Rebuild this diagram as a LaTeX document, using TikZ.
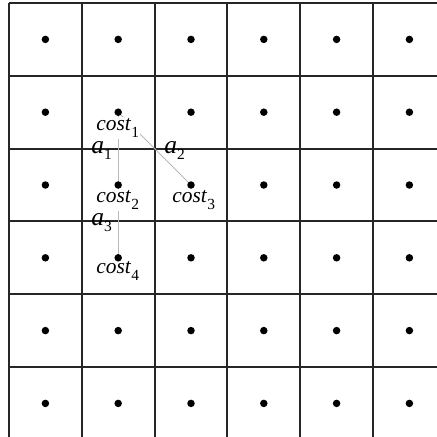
\documentclass[tikz,border=0pt]{standalone}
\usepackage{fontspec}
\setmainfont{Liberation Serif}

\newcommand{\sublbl}[3]{\textit{#1}\raisebox{-#3}{\fontsize{8.8}{9}\selectfont #2}}

\begin{document}
\begin{tikzpicture}[
    grid/.style    = {draw=black!85, line width=1.1pt},
    cell/.style    = {circle, fill=black, inner sep=0pt, minimum size=0.15cm},
    path/.style    = {draw=gray!55, line width=0.5pt},
    costlbl/.style = {anchor=base west, inner sep=0.6pt, fill=white,
                      font=\fontsize{12.2}{14}\selectfont},
    actlbl/.style  = {anchor=base west, inner sep=0pt,
                      font=\fontsize{14.5}{16}\selectfont},
  ]

  \useasboundingbox (0.000cm, 0.000cm) rectangle (8.740cm, -8.740cm);
  \clip (0.000cm, 0.000cm) rectangle (8.740cm, -8.740cm);

  % grid lines
  \foreach \k in {0,...,6} {
    \draw[grid] ({0.180cm + \k*1.456cm}, -0.060cm) -- ({0.180cm + \k*1.456cm}, -9.000cm);
    \draw[grid] (0.180cm, {-0.060cm - \k*1.456cm}) -- (9.000cm, {-0.060cm - \k*1.456cm});
  }

  % cell centres
  \foreach \i in {1,...,6} {
    \foreach \j in {1,...,6} {
      \coordinate (c\i\j) at ({0.908cm + (\i-1)*1.456cm}, {-0.788cm - (\j-1)*1.456cm});
    }
  }

  \draw[path] (c22) -- (c24);
  \draw[path] (c22) -- (c33);

  \node[costlbl] (cost1) at (1.900cm, -2.600cm) {\sublbl{cost}{1}{4.5pt}};
  \node[costlbl] (cost2) at (1.900cm, -4.040cm) {\sublbl{cost}{2}{4.5pt}};
  \node[costlbl] (cost3) at (3.420cm, -4.040cm) {\sublbl{cost}{3}{4.5pt}};
  \node[costlbl] (cost4) at (1.900cm, -5.460cm) {\sublbl{cost}{4}{4.5pt}};
  \node[actlbl] (a1) at (1.820cm, -3.060cm) {\sublbl{a}{1}{3.5pt}};
  \node[actlbl] (a2) at (3.280cm, -3.060cm) {\sublbl{a}{2}{3.5pt}};
  \node[actlbl] (a3) at (1.820cm, -4.500cm) {\sublbl{a}{3}{3.5pt}};

  \foreach \i in {1,...,6} {
    \foreach \j in {1,...,6} {
      \node[cell] (d\i\j) at (c\i\j) {};
    }
  }

\end{tikzpicture}
\end{document}
